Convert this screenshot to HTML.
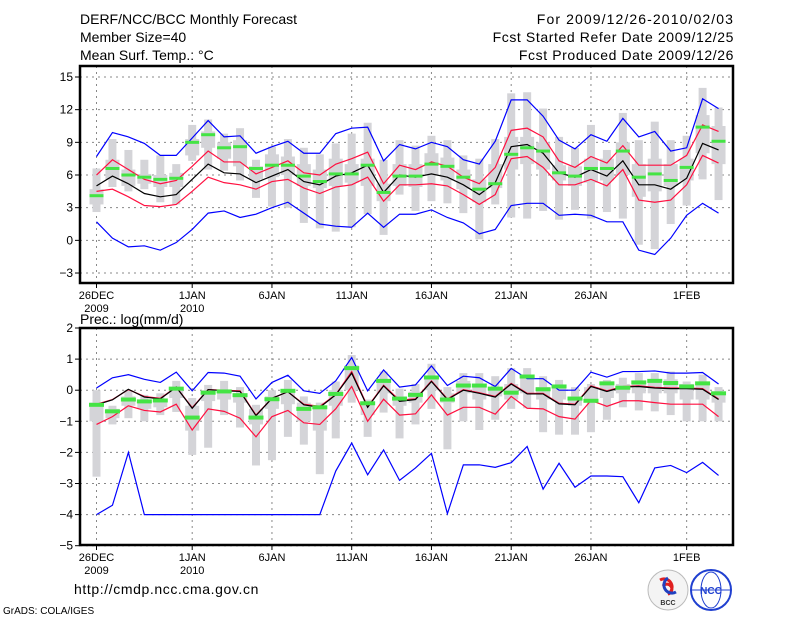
<!DOCTYPE html>
<html><head><meta charset="utf-8">
<style>
html,body{margin:0;padding:0;background:#fff;}
svg{display:block;}
text{font-family:"Liberation Sans",sans-serif;}
</style></head>
<body>
<svg id="chart" width="800" height="618" viewBox="0 0 800 618" xmlns="http://www.w3.org/2000/svg">
<g font-size="14" fill="#000">
<text x="80" y="24">DERF/NCC/BCC Monthly Forecast</text>
<text x="80" y="42">Member Size=40</text>
<text x="80" y="60">Mean Surf. Temp.: °C</text>
<text x="734" y="24" text-anchor="end" letter-spacing="1.1">For 2009/12/26-2010/02/03</text>
<text x="734" y="42" text-anchor="end" letter-spacing="0.6">Fcst Started Refer Date 2009/12/25</text>
<text x="734" y="60" text-anchor="end" letter-spacing="0.6">Fcst Produced Date 2009/12/26</text>
<text x="80" y="324">Prec.: log(mm/d)</text>
<text x="74" y="594" font-size="14" letter-spacing="0.6">http://cmdp.ncc.cma.gov.cn</text>
<text x="3" y="614" font-size="10">GrADS: COLA/IGES</text>
</g>
<g>
<circle cx="668" cy="590" r="20" fill="#f4f4f4" stroke="#bbb"/>
<path d="M660 580 a8 8 0 1 1 8 14 a5 5 0 1 0 -5 -8" fill="none" stroke="#e02020" stroke-width="3"/>
<path d="M676 592 a8 8 0 1 1 -8 -14" fill="none" stroke="#2040c0" stroke-width="3"/>
<text x="668" y="605" font-size="7" text-anchor="middle" font-weight="bold" fill="#333">BCC</text>
</g>
<g>
<circle cx="711" cy="590" r="20" fill="#fff" stroke="#2040d0" stroke-width="2"/>
<ellipse cx="711" cy="590" rx="10" ry="18" fill="none" stroke="#2040d0"/>
<line x1="692" y1="590" x2="730" y2="590" stroke="#2040d0"/>
<text x="711" y="594" font-size="10" text-anchor="middle" font-weight="bold" fill="#2040d0">NCC</text>
</g>
</svg>
<script>
// ---- data: days from 26 Dec 2009 ----
const dayTickIdx = [0, 6, 11, 16, 21, 26, 31, 37];
const dayTickLabels = ["26DEC", "1JAN", "6JAN", "11JAN", "16JAN", "21JAN", "26JAN", "1FEB"];
const yearLabels = ["2009", "2010"];
const tempTicks = [15, 12, 9, 6, 3, 0, -3];
const precTicks = [2, 1, 0, -1, -2, -3, -4, -5];

const tMaxLine = [7.7,9.9,9.5,8.9,7.8,7.8,9.4,11.0,9.5,9.6,8.0,8.6,9.1,8.0,8.0,9.8,10.3,10.4,7.3,8.8,8.4,9.0,8.6,7.4,7.0,9.1,12.9,12.9,11.4,9.2,8.4,9.7,9.1,11.2,9.5,10.0,8.2,8.5,13.0,12.1];
const tMinLine = [1.7,0.2,-0.6,-0.5,-0.9,-0.2,1.0,2.5,2.7,2.1,2.4,3.0,3.5,2.5,1.5,1.3,1.2,2.5,1.2,2.4,2.4,2.8,2.1,1.6,0.6,1.0,3.2,3.4,3.4,2.3,2.4,2.3,1.7,1.7,-0.9,-1.3,0.2,2.3,3.4,2.5];
const tUpper = [6.0,7.4,6.5,5.6,5.2,5.5,6.8,8.2,7.2,7.2,6.1,6.7,7.3,6.2,6.0,7.0,7.5,8.1,5.2,6.9,6.5,7.2,6.8,5.8,5.2,6.7,10.1,10.3,9.5,7.3,6.7,7.7,7.1,8.7,6.9,6.9,6.9,7.8,10.6,10.0];
const tMean = [5.0,5.9,5.2,4.3,4.0,4.2,5.6,7.0,6.2,6.1,5.3,5.9,6.5,5.4,5.1,5.9,6.2,6.9,4.4,6.0,5.8,6.1,5.8,5.1,4.2,5.3,8.6,8.8,8.0,6.2,5.8,6.5,5.9,7.3,5.1,5.1,4.7,5.7,8.9,8.3];
const tLower = [4.5,4.7,4.0,3.2,3.1,3.3,4.5,5.8,5.3,5.1,4.7,5.4,5.6,4.8,4.3,4.9,5.1,5.8,3.6,5.1,5.1,5.2,5.0,4.2,3.3,4.2,7.5,7.7,6.7,5.1,5.1,5.6,5.0,6.5,3.7,3.5,3.7,5.1,7.8,7.1];
const tMedian = [4.1,6.6,6.0,5.8,5.6,5.7,9.0,9.7,8.5,8.6,6.6,6.9,6.9,5.9,5.4,6.1,6.1,6.9,4.4,5.9,5.9,7.0,6.8,5.8,4.7,5.2,7.9,8.5,8.2,6.2,5.9,6.6,6.6,8.2,5.8,6.1,5.5,6.7,10.4,9.1];
const tWhiskHi = [6.6,9.3,8.3,7.4,7.8,7.0,10.6,11.1,9.8,10.3,7.4,8.6,9.3,8.5,7.9,8.9,9.8,10.8,7.4,9.2,8.7,9.6,9.2,7.8,7.5,9.3,13.5,13.6,12.1,9.5,8.5,10.6,8.3,11.7,9.2,10.9,9.2,9.6,14.0,12.2];
const tWhiskLo = [2.6,4.9,4.5,4.7,3.5,3.3,7.3,6.5,6.4,5.5,3.9,3.1,3.0,1.6,1.1,0.8,1.2,2.4,0.5,4.2,2.7,3.6,3.4,2.5,0.1,3.3,2.1,2.0,2.7,1.9,2.8,2.0,2.6,2.0,-0.4,-0.8,1.5,3.2,5.6,3.7];
const tBoxHi = [4.7,7.4,6.5,6.1,6.0,6.2,9.3,10.0,9.0,9.2,6.8,7.9,7.7,7.0,6.5,7.5,7.0,7.5,5.2,7.0,7.0,8.0,7.6,6.5,5.6,7.0,9.5,9.5,9.0,6.9,6.8,7.5,7.5,9.0,7.0,7.5,7.0,7.5,11.5,10.5];
const tBoxLo = [3.3,5.6,5.0,5.2,4.9,4.9,7.8,8.5,7.5,6.8,5.6,5.8,6.0,5.0,4.8,5.0,5.3,5.0,3.6,5.0,4.9,6.0,5.5,4.7,3.5,4.8,6.5,7.0,6.5,5.5,5.0,5.3,5.5,6.0,4.0,4.5,5.0,5.5,8.0,7.0];

const pMaxLine = [0.07,0.4,0.5,0.35,0.25,0.58,-0.02,0.57,0.55,0.45,-0.28,0.25,0.48,-0.02,-0.1,0.3,1.05,-0.02,0.65,0.1,0.17,0.78,0.15,0.45,0.4,0.12,0.7,0.37,0.37,0.0,0.0,0.58,0.42,0.6,0.6,0.62,0.55,0.55,0.57,0.2];
const pMinLine = [-4.0,-3.7,-2.0,-4.0,-4.0,-4.0,-4.0,-4.0,-4.0,-4.0,-4.0,-4.0,-4.0,-4.0,-4.0,-2.6,-1.7,-2.72,-1.92,-2.9,-2.5,-2.03,-3.97,-2.4,-2.4,-2.48,-2.33,-1.81,-3.18,-2.35,-3.12,-2.76,-2.76,-2.78,-3.62,-2.5,-2.42,-2.65,-2.32,-2.74];
const pUpper = [-0.45,-0.3,0.02,-0.2,-0.26,0.1,-0.56,0.02,0.0,-0.02,-0.8,-0.26,-0.05,-0.45,-0.52,-0.14,0.6,-0.53,0.16,-0.32,-0.28,0.3,-0.28,0.02,-0.08,-0.2,0.22,-0.1,-0.1,-0.42,-0.45,0.14,-0.02,0.12,0.14,0.09,0.07,0.07,0.05,-0.28];
const pMean = [-0.47,-0.31,0.03,-0.22,-0.28,0.1,-0.58,0.02,-0.02,-0.04,-0.82,-0.26,-0.05,-0.47,-0.55,-0.15,0.55,-0.55,0.14,-0.36,-0.3,0.28,-0.3,0.0,-0.1,-0.22,0.2,-0.12,-0.12,-0.44,-0.47,0.12,-0.04,0.1,0.12,0.07,0.05,0.05,0.03,-0.3];
const pLower = [-1.1,-0.85,-0.5,-0.65,-0.7,-0.45,-1.28,-0.6,-0.68,-0.9,-1.5,-0.85,-0.65,-1.05,-1.1,-0.6,0.12,-1.0,-0.29,-0.8,-0.76,-0.15,-0.8,-0.55,-0.55,-0.77,-0.2,-0.58,-0.6,-0.85,-0.93,-0.33,-0.52,-0.34,-0.34,-0.4,-0.45,-0.45,-0.45,-0.85];
const pMedian = [-0.47,-0.68,-0.3,-0.36,-0.33,0.05,-0.88,-0.08,-0.04,-0.16,-0.88,-0.29,-0.02,-0.6,-0.55,-0.12,0.71,-0.42,0.3,-0.27,-0.15,0.41,-0.3,0.15,0.15,0.05,-0.08,0.44,0.03,0.12,-0.27,-0.34,0.22,0.08,0.25,0.3,0.23,0.12,0.22,-0.1];
const pWhiskHi = [0.0,-0.5,0.0,-0.15,-0.1,0.3,-0.25,0.17,0.3,0.1,-0.47,0.0,0.33,-0.2,-0.4,0.28,1.13,-0.3,0.6,0.05,0.2,0.85,0.1,0.55,0.55,0.45,0.71,0.71,0.45,0.33,0.1,0.2,0.33,0.4,0.55,0.55,0.6,0.28,0.5,0.1];
const pWhiskLo = [-2.78,-1.1,-0.9,-1.0,-0.8,-0.7,-2.08,-1.85,-0.8,-1.2,-2.42,-2.25,-1.5,-1.75,-2.7,-1.55,-0.4,-1.5,-0.72,-1.55,-1.1,-0.6,-1.9,-1.0,-1.28,-0.95,-0.6,-0.58,-1.35,-1.43,-1.43,-1.35,-0.95,-0.55,-0.65,-0.68,-0.8,-1.0,-1.0,-1.0];
const pBoxHi = [-0.4,-0.6,-0.2,-0.3,-0.3,0.1,-0.5,0.0,0.0,-0.1,-0.6,-0.2,0.0,-0.4,-0.5,0.0,0.8,-0.4,0.3,-0.2,-0.05,0.4,-0.1,0.3,0.2,0.1,0.2,0.4,0.1,0.1,-0.2,0.1,0.15,0.2,0.3,0.35,0.35,0.2,0.2,-0.1];
const pBoxLo = [-1.0,-0.9,-0.5,-0.6,-0.55,-0.25,-1.3,-0.35,-0.3,-0.4,-1.1,-0.6,-0.45,-1.0,-1.3,-0.5,0.0,-0.8,-0.1,-0.5,-0.4,0.0,-0.4,-0.1,-0.3,-0.2,-0.3,-0.1,-0.3,-0.3,-0.5,-0.3,-0.25,-0.1,-0.1,-0.1,-0.1,-0.3,-0.3,-0.4];

const NS = "http://www.w3.org/2000/svg";
const svg = document.getElementById("chart");
const X0 = 96.5, DX = 15.95, BOXL = 80, BOXR = 733;
function xAt(d){ return X0 + DX * d; }
function mk(tag, attrs, parent){
  const e = document.createElementNS(NS, tag);
  for (const k in attrs) e.setAttribute(k, attrs[k]);
  (parent || svg).appendChild(e);
  return e;
}

function panel(cfg){
  const g = mk("g", {});
  
  
  const y = v => cfg.yTop + (cfg.vTop - v) * cfg.scale;
  cfg.ticks.forEach((t, i) => {
    const gl = mk("line", {x1: BOXL, x2: BOXR, y1: y(t), y2: y(t), stroke: "#888", "stroke-dasharray": "2,4", "stroke-width": 1}, g);
    
    
    const tk = mk("line", {x1: BOXL - 5, x2: BOXL, y1: y(t), y2: y(t), stroke: "#000"}, g);
    
    
    const tl = mk("text", {x: BOXL - 7, y: y(t) + 4, "text-anchor": "end", "font-size": 12}, g);
    
    
    tl.textContent = String(t).replace("-", "\u2212");
  });
  dayTickIdx.forEach((d, i) => {
    const vl = mk("line", {x1: xAt(d), x2: xAt(d), y1: cfg.boxT, y2: cfg.boxB, stroke: "#888", "stroke-dasharray": "2,4"}, g);
    
    
    const tk = mk("line", {x1: xAt(d), x2: xAt(d), y1: cfg.boxB, y2: cfg.boxB + 5, stroke: "#000"}, g);
    
    
    const tl = mk("text", {x: xAt(d), y: cfg.boxB + 16, "text-anchor": "middle", "font-size": 11}, g);
    
    
    tl.textContent = dayTickLabels[i];
  });
  [0, 6].forEach((d, i) => {
    const yl = mk("text", {x: xAt(d), y: cfg.boxB + 29, "text-anchor": "middle", "font-size": 11}, g);
    
    
    yl.textContent = yearLabels[i];
  });
  for (let i = 0; i < cfg.wHi.length; i++) {
    const w = mk("rect", {x: xAt(i) - 4, y: y(cfg.wHi[i]), width: 8, height: y(cfg.wLo[i]) - y(cfg.wHi[i]), fill: "#d4d4d8"}, g);
    
    
    const b = mk("rect", {x: xAt(i) - 7, y: y(cfg.bHi[i]), width: 14, height: y(cfg.bLo[i]) - y(cfg.bHi[i]), fill: "#d4d4d8"}, g);
    
    
  }
  const line = (arr, color, nm) => {
    const p = mk("polyline", {points: arr.map((v, i) => xAt(i) + "," + y(v)).join(" "), fill: "none", stroke: color, "stroke-width": 1.2}, g);
    
    
  };
  line(cfg.maxL, "#0000ff", "max-line");
  line(cfg.minL, "#0000ff", "min-line");
  line(cfg.up, "#ff1040", "upper-line");
  line(cfg.lo, "#ff1040", "lower-line");
  line(cfg.mean, "#000", "mean-line");
  for (let i = 0; i < cfg.med.length; i++) {
    const m = mk("rect", {x: xAt(i) - cfg.gw / 2, y: y(cfg.med[i]) - cfg.gh / 2, width: cfg.gw, height: cfg.gh, fill: "#44e444"}, g);
    
    
  }
  const fr = mk("rect", {x: BOXL, y: cfg.boxT, width: BOXR - BOXL, height: cfg.boxB - cfg.boxT, fill: "none", stroke: "#000", "stroke-width": 2.5}, g);
  
  
}

panel({name: "temperature-panel", yTop: 77, vTop: 15, scale: 10.89, boxT: 66, boxB: 283, ticks: tempTicks,
  wHi: tWhiskHi, wLo: tWhiskLo, bHi: tBoxHi, bLo: tBoxLo, maxL: tMaxLine, minL: tMinLine, up: tUpper, lo: tLower, mean: tMean, med: tMedian, gw: 14, gh: 3});
panel({name: "precipitation-panel", yTop: 328, vTop: 2, scale: 31.1, boxT: 328, boxB: 545, ticks: precTicks,
  wHi: pWhiskHi, wLo: pWhiskLo, bHi: pBoxHi, bLo: pBoxLo, maxL: pMaxLine, minL: pMinLine, up: pUpper, lo: pLower, mean: pMean, med: pMedian, gw: 15, gh: 4});
</script>
</body></html>
